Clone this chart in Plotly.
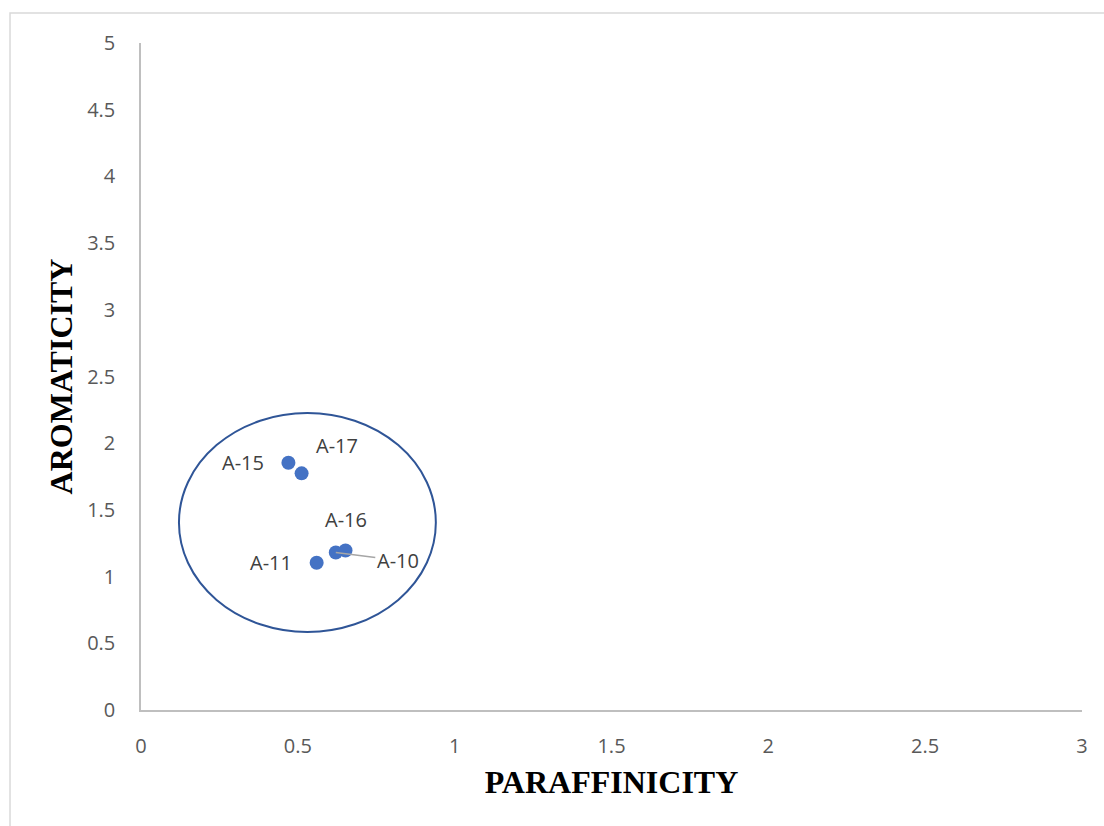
import plotly.graph_objects as go

# Sample values
samples = ["A-15", "A-17", "A-10", "A-16", "A-11"]
paraffinicity = [0.470, 0.512, 0.621, 0.652, 0.560]
aromaticity = [1.854, 1.774, 1.181, 1.196, 1.104]

# Label offsets (pixels) relative to each point
label_dx = [-45, 35, 62, 0, -46]
label_dy = [0, 28, -8, 31, 0]

# Grouping ellipse bounds (data units)
ell_x = [0.121, 0.940]
ell_y = [0.585, 2.226]

x_ticks = [0, 0.5, 1, 1.5, 2, 2.5, 3]
y_ticks = [0, 0.5, 1, 1.5, 2, 2.5, 3, 3.5, 4, 4.5, 5]

tick_font = dict(family="Open Sans", size=20, color="#595959")
label_font = dict(family="Open Sans", size=20, color="#404040")
title_font = dict(family="Liberation Serif", size=32, color="#000000")

fig = go.Figure()
fig.add_trace(go.Scatter(
    x=paraffinicity, y=aromaticity, mode="markers",
    marker=dict(size=14, color="#4472C4"),
    hoverinfo="x+y", showlegend=False,
))

annotations = []
for name, x, y, dx, dy in zip(samples, paraffinicity, aromaticity, label_dx, label_dy):
    if name == "A-10":
        annotations.append(dict(
            x=x, y=y, xref="x", yref="y", text=name,
            showarrow=True, arrowhead=0, arrowwidth=1.5, arrowcolor="#A6A6A6",
            ax=dx, ay=-dy, standoff=0, font=label_font,
        ))
    else:
        annotations.append(dict(
            x=x, y=y, xref="x", yref="y", text=name, showarrow=False,
            xshift=dx, yshift=dy, font=label_font,
        ))

fig.add_shape(type="circle", xref="x", yref="y",
              x0=ell_x[0], x1=ell_x[1], y0=ell_y[0], y1=ell_y[1],
              line=dict(color="#2F5597", width=2), layer="below")

# Chart area frame
fig.add_shape(type="rect", xref="paper", yref="paper",
              x0=-0.1392, x1=1.05, y0=-0.2, y1=1.045,
              line=dict(color="#D9D9D9", width=1.5), layer="below")

fig.update_layout(
    width=1104, height=826,
    margin=dict(l=141, r=22, t=43, b=116),
    paper_bgcolor="white", plot_bgcolor="white",
    annotations=annotations,
    xaxis=dict(
        range=[0, 3], tickvals=x_ticks, ticktext=[f"{v:g}" for v in x_ticks],
        showgrid=False, zeroline=False, showline=True, linecolor="#BFBFBF", linewidth=1.5,
        ticks="outside", ticklen=17, tickcolor="rgba(0,0,0,0)", tickfont=tick_font,
        title=dict(text="<b>PARAFFINICITY</b>", font=title_font, standoff=13),
    ),
    yaxis=dict(
        range=[0, 5], tickvals=y_ticks, ticktext=[f"{v:g}" for v in y_ticks],
        showgrid=False, zeroline=False, showline=True, linecolor="#BFBFBF", linewidth=1.5,
        ticks="outside", ticklen=20, tickcolor="rgba(0,0,0,0)", tickfont=tick_font,
        title=dict(text="<b>AROMATICITY</b>", font=title_font, standoff=5),
    ),
)

fig.write_html("out.html")
